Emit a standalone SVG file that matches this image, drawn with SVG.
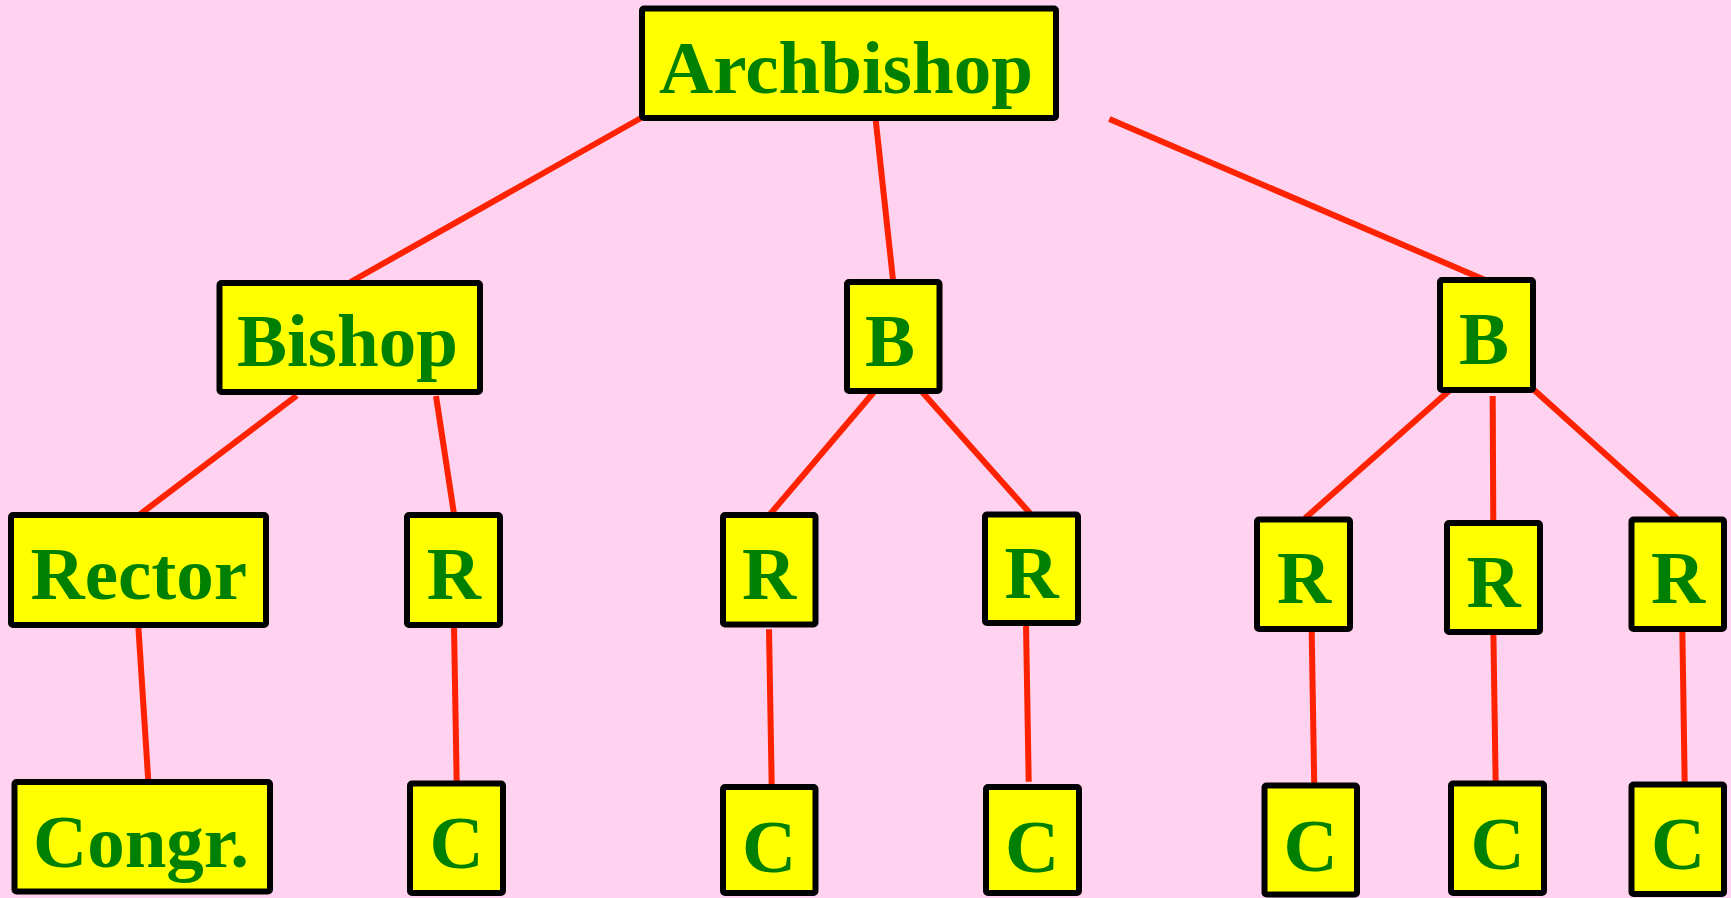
<svg xmlns="http://www.w3.org/2000/svg" width="1731" height="898" viewBox="0 0 1731 898">
<style>
.bx{fill:#FFFF00;stroke:#000;stroke-width:6;stroke-linejoin:round}
.t{font-family:"Liberation Serif","Times New Roman",serif;font-weight:bold;font-size:75px;fill:#008000;text-anchor:middle}
.ln{stroke:#FF2200;stroke-width:6;fill:none}
</style>
<rect width="1731" height="898" fill="#FFD2F0"/>
<g id="connectors">
<line class="ln" x1="641" y1="118" x2="350.5" y2="282"/>
<line class="ln" x1="875.5" y1="118" x2="893" y2="280"/>
<line class="ln" x1="1109.3" y1="119" x2="1485" y2="280"/>
<line class="ln" x1="296.7" y1="395.7" x2="140" y2="514.3"/>
<line class="ln" x1="436" y1="396" x2="454" y2="514"/>
<line class="ln" x1="875" y1="390.7" x2="770" y2="514.3"/>
<line class="ln" x1="921" y1="390.7" x2="1030" y2="513.3"/>
<line class="ln" x1="1450" y1="390" x2="1305" y2="518.3"/>
<line class="ln" x1="1492.7" y1="396" x2="1493.3" y2="523.3"/>
<line class="ln" x1="1533.3" y1="389.3" x2="1676.7" y2="518.3"/>
<line class="ln" x1="138.3" y1="626" x2="148.3" y2="781"/>
<line class="ln" x1="454" y1="626" x2="456.7" y2="782.7"/>
<line class="ln" x1="769" y1="629.3" x2="771.7" y2="786"/>
<line class="ln" x1="1026" y1="624" x2="1028.7" y2="781.7"/>
<line class="ln" x1="1311.7" y1="631.7" x2="1314.3" y2="789.3"/>
<line class="ln" x1="1493.3" y1="627.3" x2="1495.7" y2="785.7"/>
<line class="ln" x1="1682.3" y1="626.7" x2="1684.7" y2="785"/>
</g>
<g id="archbishop"><rect class="bx" x="642" y="8.5" width="414" height="109.5" rx="2"/><text class="t" x="846" y="92.7">Archbishop</text></g>
<g id="bishop"><rect class="bx" x="219.5" y="283" width="260.5" height="109" rx="2"/><text class="t" x="347.5" y="365.7">Bishop</text></g>
<g id="b2"><rect class="bx" x="847" y="282" width="92.5" height="109" rx="2"/><text class="t" x="890" y="365.7">B</text></g>
<g id="b3"><rect class="bx" x="1440" y="280" width="93" height="110" rx="2"/><text class="t" x="1484" y="364.3">B</text></g>
<g id="rector"><rect class="bx" x="11" y="515" width="255" height="110" rx="2"/><text class="t" x="138.8" y="599.3">Rector</text></g>
<g id="r1"><rect class="bx" x="407" y="515" width="93" height="110" rx="2"/><text class="t" x="453.8" y="599.3">R</text></g>
<g id="r2"><rect class="bx" x="723" y="515" width="92.5" height="109.5" rx="2"/><text class="t" x="769" y="599.3">R</text></g>
<g id="r3"><rect class="bx" x="985" y="514.5" width="93" height="108.5" rx="2"/><text class="t" x="1031.5" y="598.3">R</text></g>
<g id="r4"><rect class="bx" x="1257" y="519.5" width="93" height="109.5" rx="2"/><text class="t" x="1304" y="603.3">R</text></g>
<g id="r5"><rect class="bx" x="1447" y="523" width="93" height="109" rx="2"/><text class="t" x="1493.5" y="607.3">R</text></g>
<g id="r6"><rect class="bx" x="1631.5" y="519.5" width="92.5" height="109.5" rx="2"/><text class="t" x="1678" y="603.3">R</text></g>
<g id="congr"><rect class="bx" x="14.5" y="782" width="255.5" height="109.5" rx="2"/><text class="t" x="141" y="866.7">Congr.</text></g>
<g id="c1"><rect class="bx" x="410" y="783.5" width="93" height="109.5" rx="2"/><text class="t" x="456.7" y="868.3">C</text></g>
<g id="c2"><rect class="bx" x="723" y="787" width="92.5" height="106" rx="2"/><text class="t" x="769" y="872.3">C</text></g>
<g id="c3"><rect class="bx" x="986" y="787" width="93" height="106" rx="2"/><text class="t" x="1032" y="872">C</text></g>
<g id="c4"><rect class="bx" x="1264.5" y="785.5" width="92.5" height="109" rx="2"/><text class="t" x="1310.7" y="870.7">C</text></g>
<g id="c5"><rect class="bx" x="1451" y="783.5" width="93" height="109.5" rx="2"/><text class="t" x="1497.5" y="868.7">C</text></g>
<g id="c6"><rect class="bx" x="1631.5" y="784.5" width="92.5" height="109.5" rx="2"/><text class="t" x="1678" y="869.3">C</text></g>
</svg>
